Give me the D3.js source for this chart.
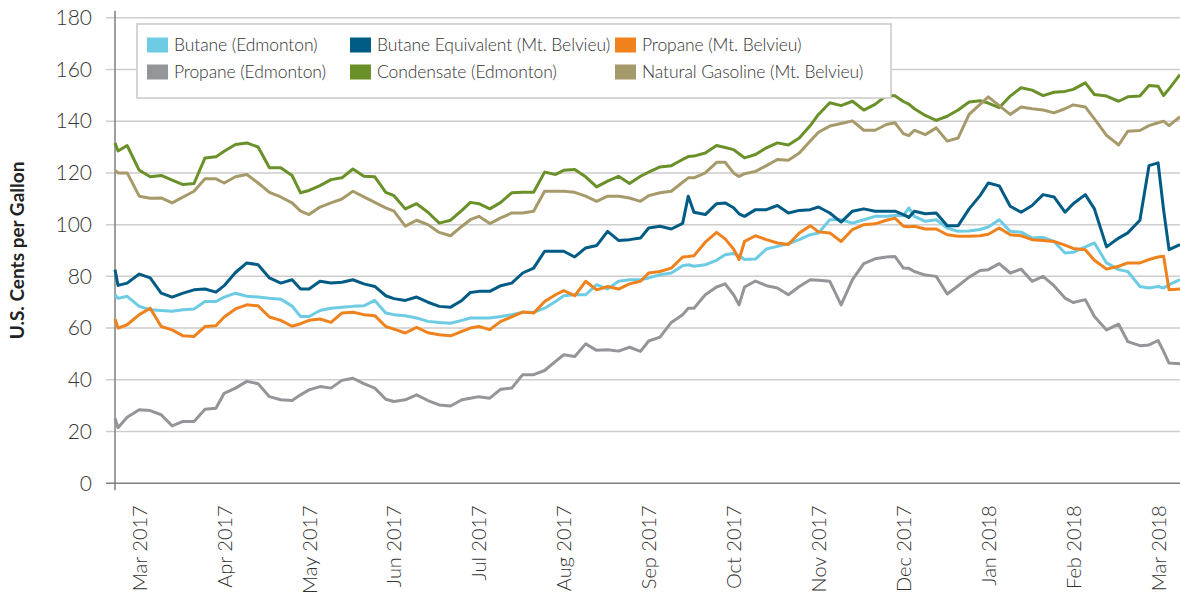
<!DOCTYPE html>
<html>
<head>
<meta charset="utf-8">
<script src="https://cdnjs.cloudflare.com/ajax/libs/d3/7.8.5/d3.min.js"></script>
<style>
  body { margin: 0; background: #fff; }
  text { font-family: Lato, "Open Sans", sans-serif; fill: #333; }
</style>
</head>
<body>
<div id="chart-area"></div>
<script>
// sample dates
let dates = [
  "2017-02-21","2017-02-22","2017-02-25",
  "2017-03-01","2017-03-05","2017-03-09","2017-03-13","2017-03-17","2017-03-21","2017-03-25","2017-03-29",
  "2017-04-01","2017-04-05","2017-04-09","2017-04-13","2017-04-17","2017-04-21","2017-04-25","2017-04-28",
  "2017-05-01","2017-05-05","2017-05-09","2017-05-13","2017-05-17","2017-05-21","2017-05-25","2017-05-29",
  "2017-06-01","2017-06-05","2017-06-09","2017-06-13","2017-06-17","2017-06-21","2017-06-25","2017-06-28",
  "2017-07-01","2017-07-05","2017-07-09","2017-07-13","2017-07-17","2017-07-21","2017-07-25","2017-07-29",
  "2017-08-01","2017-08-05","2017-08-09","2017-08-13","2017-08-17","2017-08-21","2017-08-25","2017-08-29",
  "2017-09-01","2017-09-05","2017-09-09","2017-09-13","2017-09-15","2017-09-17","2017-09-21","2017-09-25","2017-09-28",
  "2017-10-01","2017-10-03","2017-10-05","2017-10-09","2017-10-13","2017-10-17","2017-10-21","2017-10-25","2017-10-29",
  "2017-11-01","2017-11-05","2017-11-09","2017-11-13","2017-11-17","2017-11-21","2017-11-25","2017-11-28",
  "2017-12-01","2017-12-03","2017-12-05","2017-12-09","2017-12-13","2017-12-17","2017-12-21","2017-12-25","2017-12-29",
  "2018-01-01","2018-01-05","2018-01-09","2018-01-13","2018-01-17","2018-01-21","2018-01-25","2018-01-29",
  "2018-02-01","2018-02-05","2018-02-08","2018-02-12","2018-02-16","2018-02-19","2018-02-23","2018-02-26",
  "2018-03-01","2018-03-03","2018-03-05","2018-03-09"
];

let butaneEdm = [
  72.9,71.5,72.3,
  68.4,67.1,66.8,66.5,67.1,67.4,70.3,70.3,
  72,73.5,72.3,72,71.5,71.2,68.5,64.5,
  64.5,66.8,67.7,68.1,68.4,68.6,70.7,65.8,
  65.2,64.8,63.9,62.6,62.2,61.9,63,63.9,
  63.9,63.9,64.5,65.2,66.1,66.1,67.7,70.3,
  72.5,72.9,72.9,76.8,75.1,78.1,78.7,78.7,
  79.4,80.6,81.3,84.1,84.5,83.9,84.5,86.2,88.4,
  88.8,88,86.5,86.7,90.6,91.6,92.6,94.2,96.1,
  96.8,101.9,101.9,100.6,101.9,103.2,103.2,103.5,
  103.5,106.5,103.2,101.3,101.9,98.7,97.4,97.5,98.1,
  99.1,101.9,97.4,97.1,94.8,95.1,93.5,89,
  89.3,91.4,92.9,85.2,82.6,81.9,76.1,75.5,
  76.1,75.5,76.8,78.7
];

let propaneEdm = [
  25.2,21.5,25.5,
  28.4,28.1,26.5,22.2,23.9,23.9,28.6,29,
  34.8,36.8,39.4,38.5,33.5,32.3,32,34.2,
  36.1,37.4,36.8,39.8,40.6,38.5,36.8,32.5,
  31.6,32.3,34.2,32,30.3,29.9,32.3,32.9,
  33.5,32.9,36.4,36.8,42,42,43.6,47.1,
  49.7,49,53.9,51.4,51.6,51.1,52.6,51,
  55,56.5,62.2,65.2,67.7,67.7,72.9,75.9,77.1,
  72.9,69,75.9,78.2,76.4,75.5,72.9,76.1,78.7,
  78.5,78.1,69,78.7,84.9,86.8,87.5,87.7,
  83.2,83.1,81.9,80.5,80,73.2,76.4,79.7,82.3,
  82.6,84.9,81.3,82.8,78.1,80,76.4,71.6,
  69.9,71,64.5,59.3,61.5,54.8,53.2,53.5,
  55.2,51,46.5,46.2
];

let butaneEquiv = [
  82.6,76.5,77.4,
  80.9,79.4,73.5,72,73.5,74.8,75.1,73.9,
  76.4,81.5,85.2,84.5,79.4,77.4,78.7,75.1,
  75.1,78.1,77.4,77.7,78.7,77.1,76.1,72.5,
  71.4,70.7,72,70,68.4,68.1,70.7,73.8,
  74.2,74.2,76.4,77.4,81.3,83.2,89.7,89.7,
  89.7,87.5,91,91.9,97.4,93.9,94.2,94.8,
  98.7,99.4,98.3,100.5,111,104.8,103.9,108.1,108.4,
  106.5,104.2,103.2,105.8,105.8,107.4,104.5,105.5,105.8,
  106.8,104.5,101,105.2,106.1,105.2,105.2,105.2,
  103.9,102.8,105.2,104.2,104.5,99.6,99.6,106.1,111.2,
  116.1,115,107.1,104.8,107.4,111.6,110.7,104.8,
  108.1,111.6,106.1,91.4,94.8,96.8,101.7,122.8,
  123.9,105.8,90.3,92.3
];

let condensateEdm = [
  131.6,128.5,130.6,
  121,118.5,119,117.2,115.5,115.9,125.8,126.2,
  128.4,131,131.6,130,122,122,119,112.3,
  113.2,115.1,117.4,118.1,121.5,118.7,118.5,112.5,
  111.2,106.1,108.1,104.8,100.6,101.7,105.5,108.6,
  108.1,106.1,108.6,112.3,112.5,112.5,120.3,119.4,
  121,121.3,118.5,114.6,116.8,118.7,115.9,118.7,
  120.3,122.3,122.8,125.2,126.3,126.5,127.7,130.6,129.8,
  129,127.4,125.8,127.1,129.7,131.6,130.8,133.5,138.3,
  142.6,147.1,146,147.7,144.3,146.5,149.9,149.8,
  147.6,146.6,144.8,142.2,140.3,141.9,144.3,147.4,147.9,
  147,145.2,149.7,152.9,152,149.9,151.2,151.5,
  152.3,154.8,150.3,149.7,147.7,149.4,149.7,153.8,
  153.5,149.9,152.5,158
];

let propaneMB = [
  63.5,60,61.3,
  65.2,67.7,60.6,59.3,57,56.8,60.6,60.9,
  64.3,67.4,69,68.6,64.3,63,60.7,61.7,
  63,63.5,62.2,65.8,66.1,65.2,64.8,60.6,
  59.6,58.1,60.3,58.2,57.4,57,58.7,60,
  60.6,59.4,62.6,64.3,66.2,65.8,70.3,72.9,
  74.5,72.5,78.1,74.8,76.1,75.1,77.1,78.1,
  81.3,81.9,83.2,87.5,87.7,88,93.2,97,94.5,
  90.6,86.5,93.5,95.7,94.2,92.9,92.3,96.8,99.6,
  97.2,96.8,93.5,98.1,100,100.3,101.7,102.5,
  99.4,99.2,99.4,98.3,98.3,96.1,95.5,95.5,95.7,
  96.3,98.7,96.1,95.7,94.2,93.9,93.5,92.1,
  90.8,90.3,86.2,82.8,83.9,85.2,85.2,86.5,
  87.5,87.8,74.8,75.1
];

let natGasMB = [
  121,120,120,
  111,110.2,110.3,108.4,110.7,112.9,117.7,117.7,
  116.1,118.5,119.4,116.1,112.5,110.7,108.4,105.2,
  103.9,106.8,108.4,109.9,112.9,110.7,108.6,106.5,
  105.2,99.4,101.7,100,97,95.7,99.4,101.9,
  103.2,100.4,102.6,104.5,104.5,105.2,112.9,112.9,
  112.9,112.5,111,109,111,111,110.3,109,
  111.2,112.3,112.9,116.4,118.1,118.1,120,124.1,124.1,
  120,118.6,119.7,120.6,122.8,125.2,124.9,127.7,132.3,
  135.7,138.1,139.1,140.1,136.5,136.5,138.7,139.4,
  135.2,134.4,136.5,134.8,137.4,132.3,133.5,142.6,146.5,
  149.4,146,142.6,145.5,144.8,144.3,143.2,144.8,
  146.3,145.5,140.9,134.5,130.8,136.1,136.4,138.3,
  139.4,140,138.3,141.7
];

let seriesNames = [
  "Butane (Edmonton)", "Propane (Edmonton)",
  "Butane Equivalent (Mt. Belvieu)", "Condensate (Edmonton)",
  "Propane (Mt. Belvieu)", "Natural Gasoline (Mt. Belvieu)"
];
let seriesValues = [butaneEdm, propaneEdm, butaneEquiv, condensateEdm, propaneMB, natGasMB];
let seriesColors = ["#6ecbe4", "#939598", "#005b85", "#6a9129", "#f0821e", "#a79a6a"];
let yTicks = [0, 20, 40, 60, 80, 100, 120, 140, 160, 180];

let margin = {left: 115, right: 0, top: 17.7, bottom: 110.7};
let width = 1180 - margin.left - margin.right;
let height = 594 - margin.top - margin.bottom;

let parse = d3.timeParse("%Y-%m-%d");
let dateObjs = dates.map(parse);

let svg = d3.select("#chart-area")
            .append("svg")
            .attr("width", 1180)
            .attr("height", 594);

let g = svg.append("g")
            .attr("transform", "translate(" + margin.left + "," + margin.top + ")");

// months are drawn evenly spaced, so the time scale is polylinear on month starts
let monthStarts = d3.timeMonth.range(new Date(2017, 1, 1), new Date(2018, 4, 1));
let monthIdx = d3.scaleTime().domain(monthStarts).range(monthStarts.map((d, i) => i));
let i0 = monthIdx(dateObjs[0]);
let i1 = monthIdx(dateObjs[dateObjs.length - 1]);
let monthW = width / (i1 - i0);
let x = d3.scaleTime()
        .domain(monthStarts)
        .range(monthStarts.map((d, i) => (i - i0) * monthW));

let y = d3.scaleLinear()
        .domain([0, 180])
        .range([height, 0]);

// grid
g.append("g")
    .selectAll("line")
    .data(yTicks.filter(d => d > 0))
    .enter().append("line")
        .attr("x1", -9)
        .attr("x2", width)
        .attr("y1", d => y(d))
        .attr("y2", d => y(d))
        .attr("stroke", "#cdcdcd")
        .attr("stroke-width", 1.5);

// y axis labels
let yAxis = d3.axisLeft(y)
    .tickValues(yTicks)
    .tickSize(0)
    .tickPadding(23);
let yAxis_group = g.append("g").call(yAxis);
yAxis_group.select(".domain").remove();
yAxis_group.selectAll("text")
    .style("font-size", "21px")
    .style("font-weight", 300)
    .style("fill", "#333");

// axis lines
g.append("line")
    .attr("x1", -9).attr("x2", width)
    .attr("y1", height).attr("y2", height)
    .attr("stroke", "#7f7f7f").attr("stroke-width", 1.5);
g.append("line")
    .attr("x1", 0).attr("x2", 0)
    .attr("y1", -7).attr("y2", height + 7)
    .attr("stroke", "#7f7f7f").attr("stroke-width", 1.5);

// x axis
let xAxis = d3.axisBottom(x)
    .tickValues(monthStarts.filter(d => d >= new Date(2017, 2, 1) && d <= new Date(2018, 2, 1)))
    .tickFormat(d3.timeFormat("%b %Y"))
    .tickSize(0);
let xAxis_group = g.append("g")
    .attr("transform", "translate(0," + height + ")")
    .call(xAxis);
xAxis_group.select(".domain").remove();
xAxis_group.selectAll("text")
    .attr("transform", "rotate(-90)")
    .attr("x", -22)
    .attr("y", 0)
    .attr("dy", "0.35em")
    .style("text-anchor", "end")
    .style("font-size", "20px")
    .style("font-weight", 300)
    .style("fill", "#333");

// y label
g.append("text")
    .text("U.S. Cents per Gallon")
    .attr("x", -(height / 2))
    .attr("y", -(margin.left - 24))
    .attr("transform", "rotate(-90)")
    .attr("text-anchor", "middle")
    .style("font-size", "19px")
    .style("font-weight", "bold")
    .style("fill", "#222");

// lines
let line = d3.line()
    .x((d, i) => x(dateObjs[i]))
    .y(d => y(d));

let order = [0, 1, 2, 3, 4, 5];
g.append("g")
    .selectAll("path")
    .data(order)
    .enter().append("path")
        .attr("d", k => line(seriesValues[k]))
        .attr("fill", "none")
        .attr("stroke", k => seriesColors[k])
        .attr("stroke-width", 3)
        .attr("stroke-linejoin", "round");

// legend
let legendOrder = [0, 2, 4, 1, 3, 5];
let colX = [147, 350, 615];
let rowY = [45, 72];
let legend = svg.append("g");
legend.append("rect")
    .attr("x", 137).attr("y", 24)
    .attr("width", 754).attr("height", 74)
    .attr("fill", "#fff")
    .attr("stroke", "#c8c8c8")
    .attr("stroke-width", 1.5);
let item = legend.selectAll(".item")
    .data(legendOrder)
    .enter().append("g")
        .attr("class", "item")
        .attr("transform", (k, i) => "translate(" + colX[i % 3] + "," + rowY[Math.floor(i / 3)] + ")");
item.append("rect")
    .attr("x", 0).attr("y", -7.5)
    .attr("width", 21).attr("height", 15)
    .attr("fill", k => seriesColors[k]);
item.append("text")
    .attr("x", 27)
    .attr("dy", "0.35em")
    .text(k => seriesNames[k])
    .style("font-size", "17.5px")
    .style("font-weight", 300)
    .style("letter-spacing", "-0.1px")
    .style("fill", "#333");
</script>
</body>
</html>
